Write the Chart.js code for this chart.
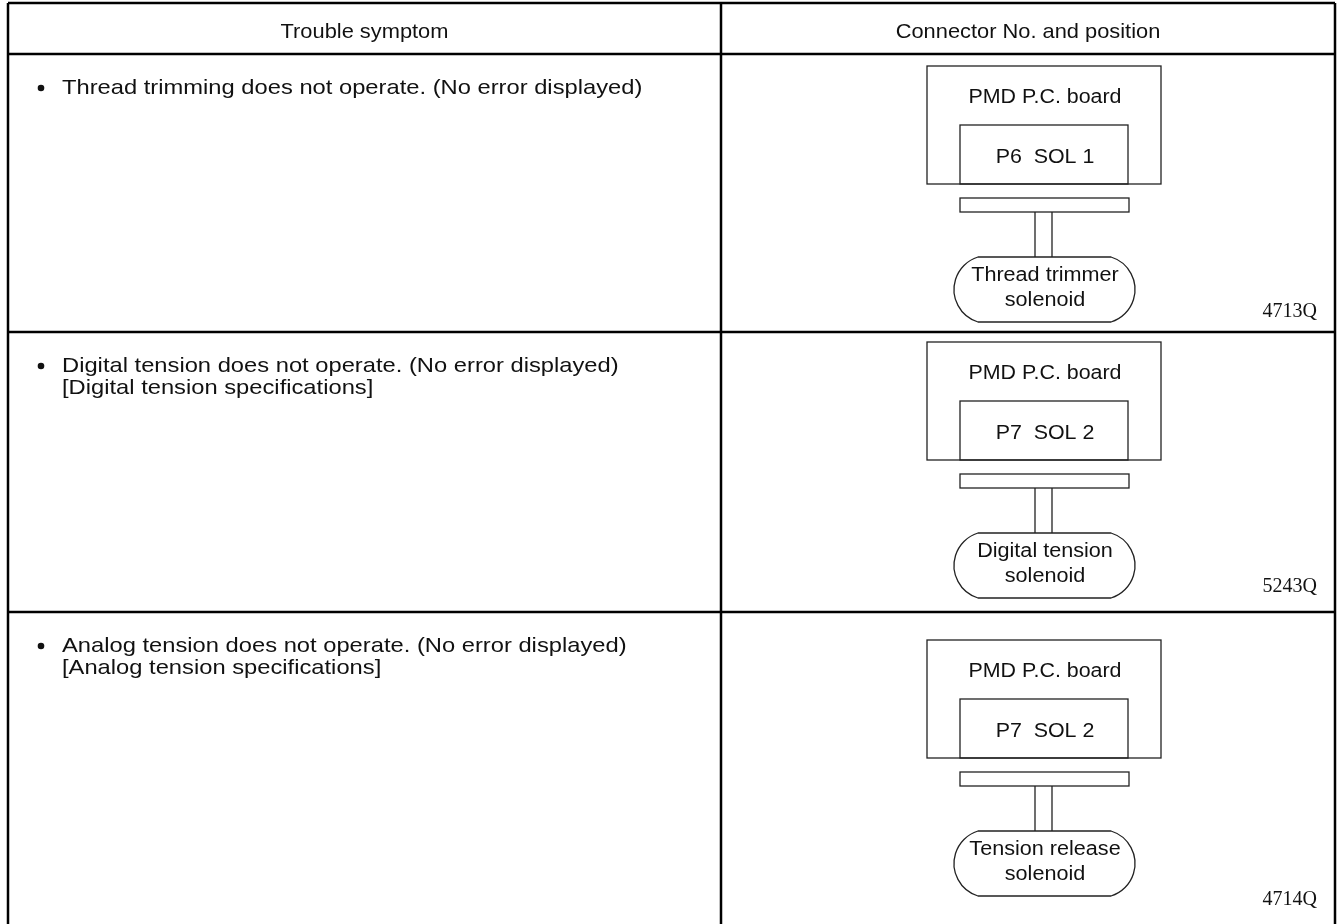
<!DOCTYPE html>
<html>
<head>
<meta charset="utf-8">
<script src="https://cdn.jsdelivr.net/npm/chart.js@4"></script>
<style>
  html, body { margin: 0; padding: 0; background: #fff; }
  canvas { display: block; }
</style>
</head>
<body>
<canvas id="sheet" width="1339" height="924"></canvas>
<script>
// table content
const headers = ['Trouble symptom', 'Connector No. and position'];
const symptoms = [
  ['Thread trimming does not operate. (No error displayed)'],
  ['Digital tension does not operate. (No error displayed)', '[Digital tension specifications]'],
  ['Analog tension does not operate. (No error displayed)', '[Analog tension specifications]']
];
const boardLabels = ['PMD P.C. board', 'PMD P.C. board', 'PMD P.C. board'];
const connectors = ['P6  SOL 1', 'P7  SOL 2', 'P7  SOL 2'];
const solenoids = [
  ['Thread trimmer', 'solenoid'],
  ['Digital tension', 'solenoid'],
  ['Tension release', 'solenoid']
];
const figCodes = ['4713Q', '5243Q', '4714Q'];

// layout (sheet units = pixels of the 1339x924 page)
const rowEdges = [3, 54, 332, 612, 930];
const colEdges = [8, 721, 1335];
const diagramTop = [66, 342, 640];
const figCodeY = [312, 587, 900];

const sans = '"Liberation Sans", Arial, sans-serif';
const serif = '"Liberation Serif", "DejaVu Serif", serif';

// the scanned text is a little wider than plain Arial
function wideText(ctx, text, x, y, stretch) {
  ctx.save();
  ctx.translate(x, y);
  ctx.scale(stretch, 1);
  ctx.fillText(text, 0, 0);
  ctx.restore();
}

// solenoid outline: flat top/bottom with shallow arcs at the ends
function capsule(ctx, x0, y0, x1, y1) {
  const h = (y1 - y0) / 2;
  const bulge = 24;
  const r = (h * h + bulge * bulge) / (2 * bulge);
  const a = Math.asin(h / r);
  const my = (y0 + y1) / 2;
  ctx.beginPath();
  ctx.moveTo(x0 + bulge, y0);
  ctx.lineTo(x1 - bulge, y0);
  ctx.arc(x1 - r, my, r, -a, a);
  ctx.lineTo(x0 + bulge, y1);
  ctx.arc(x0 + r, my, r, Math.PI - a, Math.PI + a);
  ctx.closePath();
  ctx.stroke();
}

const tablePlugin = {
  id: 'tablePlugin',
  afterDraw(chart) {
    const ctx = chart.ctx;
    const sx = v => chart.scales.x.getPixelForValue(v);
    const sy = v => chart.scales.y.getPixelForValue(v);
    ctx.save();

    // grid
    ctx.strokeStyle = '#000';
    ctx.lineWidth = 2.5;
    ctx.beginPath();
    rowEdges.slice(0, -1).forEach(y => {
      ctx.moveTo(sx(colEdges[0]), sy(y));
      ctx.lineTo(sx(colEdges[2]), sy(y));
    });
    colEdges.forEach(x => {
      ctx.moveTo(sx(x), sy(rowEdges[0]));
      ctx.lineTo(sx(x), sy(rowEdges[rowEdges.length - 1]));
    });
    ctx.stroke();

    // headers
    ctx.fillStyle = '#111';
    ctx.font = '21px ' + sans;
    ctx.textAlign = 'center';
    ctx.textBaseline = 'middle';
    headers.forEach((h, i) => {
      wideText(ctx, h, sx((colEdges[i] + colEdges[i + 1]) / 2), sy(32), 1.04);
    });

    // symptom text
    ctx.textAlign = 'left';
    symptoms.forEach((lines, r) => {
      const top = rowEdges[r + 1];
      ctx.beginPath();
      ctx.arc(sx(41), sy(top + 34), 3.3, 0, Math.PI * 2);
      ctx.fill();
      lines.forEach((t, k) => {
        wideText(ctx, t, sx(62), sy(top + 34 + k * 22), 1.13);
      });
    });

    // connector diagrams
    ctx.strokeStyle = '#222';
    ctx.lineWidth = 1.3;
    diagramTop.forEach((dt, r) => {
      const cx = 1045;
      ctx.strokeRect(sx(927), sy(dt), sx(1161) - sx(927), sy(dt + 118) - sy(dt));
      ctx.strokeRect(sx(960), sy(dt + 59), sx(1128) - sx(960), sy(dt + 118) - sy(dt + 59));
      ctx.strokeRect(sx(960), sy(dt + 132), sx(1129) - sx(960), sy(dt + 146) - sy(dt + 132));
      ctx.beginPath();
      [1035, 1052].forEach(x => {
        ctx.moveTo(sx(x), sy(dt + 146));
        ctx.lineTo(sx(x), sy(dt + 191));
      });
      ctx.stroke();
      capsule(ctx, sx(954), sy(dt + 191), sx(1135), sy(dt + 256));

      ctx.fillStyle = '#111';
      ctx.font = '20px ' + sans;
      ctx.textAlign = 'center';
      wideText(ctx, boardLabels[r], sx(cx), sy(dt + 31), 1.07);
      wideText(ctx, connectors[r], sx(cx), sy(dt + 91), 1.07);
      solenoids[r].forEach((t, k) => {
        wideText(ctx, t, sx(cx), sy(dt + 209 + k * 25), 1.08);
      });

      ctx.font = '20px ' + serif;
      ctx.textAlign = 'right';
      wideText(ctx, figCodes[r], sx(1317), sy(figCodeY[r]), 1.0);
    });

    ctx.restore();
  }
};

new Chart(document.getElementById('sheet'), {
  type: 'scatter',
  data: { datasets: [{ data: [], pointRadius: 0 }] },
  options: {
    responsive: false,
    animation: false,
    devicePixelRatio: 1,
    layout: { padding: 0 },
    plugins: { legend: { display: false }, tooltip: { enabled: false } },
    scales: {
      x: { type: 'linear', min: 0, max: 1339, display: false },
      y: { type: 'linear', min: 0, max: 924, reverse: true, display: false }
    }
  },
  plugins: [tablePlugin]
});
</script>
</body>
</html>
